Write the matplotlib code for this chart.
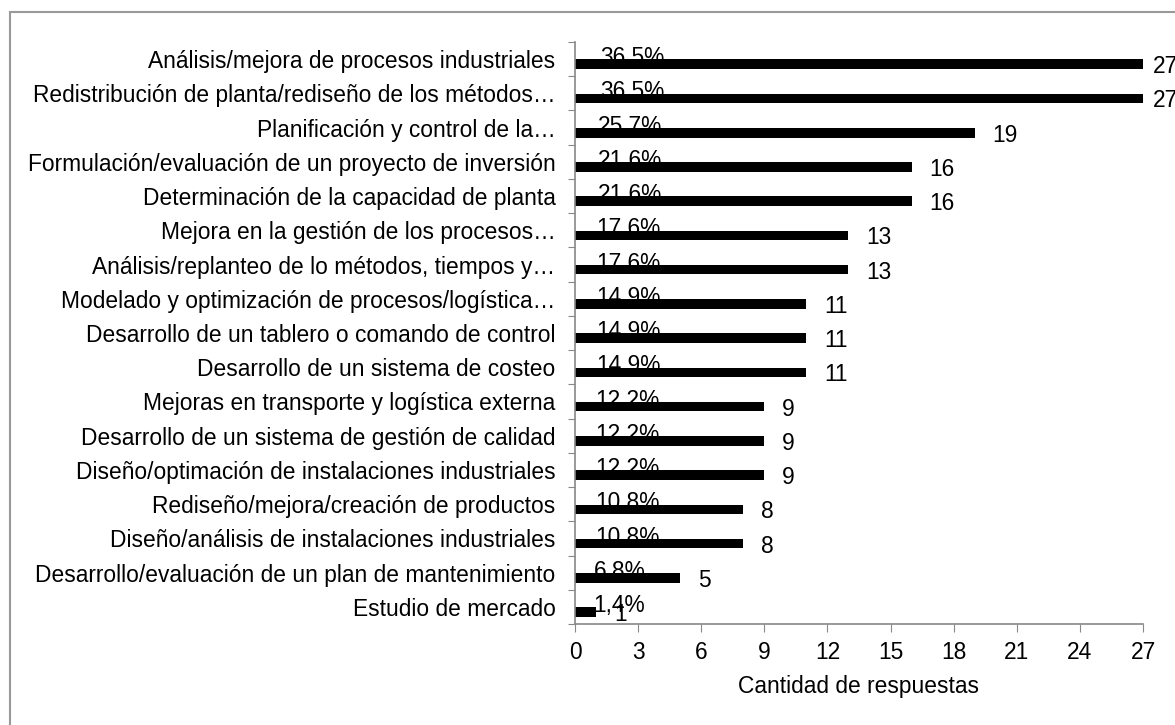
import numpy as np
import matplotlib.pyplot as plt
from matplotlib.patches import Rectangle

plt.rcParams['font.family'] = ['Liberation Sans', 'DejaVu Sans']

# Datos del gráfico
categorias = [
    'Análisis/mejora de procesos industriales',
    'Redistribución de planta/rediseño de los métodos…',
    'Planificación y control de la…',
    'Formulación/evaluación de un proyecto de inversión',
    'Determinación de la capacidad de planta',
    'Mejora en la gestión de los procesos…',
    'Análisis/replanteo de lo métodos, tiempos y…',
    'Modelado y optimización de procesos/logística…',
    'Desarrollo de un tablero o comando de control',
    'Desarrollo de un sistema de costeo',
    'Mejoras en transporte y logística externa',
    'Desarrollo de un sistema de gestión de calidad',
    'Diseño/optimación de instalaciones industriales',
    'Rediseño/mejora/creación de productos',
    'Diseño/análisis de instalaciones industriales',
    'Desarrollo/evaluación de un plan de mantenimiento',
    'Estudio de mercado',
]
respuestas = [27, 27, 19, 16, 16, 13, 13, 11, 11, 11, 9, 9, 9, 8, 8, 5, 1]
porcentajes = [36.5, 36.5, 25.7, 21.6, 21.6, 17.6, 17.6, 14.9, 14.9, 14.9,
               12.2, 12.2, 12.2, 10.8, 10.8, 6.8, 1.4]
ticks_x = [0, 3, 6, 9, 12, 15, 18, 21, 24, 27]

fig = plt.figure(figsize=(11.75, 7.25), dpi=100)
ax = fig.add_axes([575 / 1175, 101 / 725, 568 / 1175, 582 / 725])

# Marco exterior gris
fig.patches.append(Rectangle((10 / 1175, -0.1), 2.0, 1.1 - 12 / 725,
                             transform=fig.transFigure, fill=False,
                             edgecolor='#999999', linewidth=1.5))

y = np.arange(len(categorias))
desplazamiento = 0.15  # las barras quedan un poco por debajo del centro
ax.barh(y + desplazamiento, respuestas, height=0.28, color='black')

tam = 16.4
for i, (n, p) in enumerate(zip(respuestas, porcentajes)):
    # cantidad a la derecha de la barra
    sep = 0.85 if n < max(respuestas) else 0.45
    ax.text(n + sep, i + desplazamiento, str(n), fontsize=tam,
            va='center_baseline', ha='left', color='black', clip_on=False)
    # porcentaje encima del inicio de la barra
    etiqueta = f'{p:.1f}%'.replace('.', ',')
    ax.text(0.85 + p / 100, i + desplazamiento, etiqueta, fontsize=tam,
            va='baseline', ha='left', color='black', clip_on=False)

ax.set_xlim(0, 27)
ax.set_ylim(len(categorias) - 0.5, -0.5)
ax.set_xticks(ticks_x)
ax.set_xticklabels([str(t) for t in ticks_x], fontsize=tam)
ax.set_xlabel('Cantidad de respuestas', fontsize=tam, labelpad=8)

# ticks del eje y en los bordes de cada categoría, etiquetas en el centro
ax.set_yticks(np.arange(len(categorias) + 1) - 0.5)
ax.set_yticklabels([])
ax.set_yticks(y, minor=True)
ax.set_yticklabels(categorias, minor=True, fontsize=tam)
ax.tick_params(axis='y', which='minor', length=0, pad=14)
ax.tick_params(axis='y', which='major', length=5, color='#888888')
ax.tick_params(axis='x', length=6, color='#888888', pad=6)

for lado in ['top', 'right']:
    ax.spines[lado].set_visible(False)
for lado in ['left', 'bottom']:
    ax.spines[lado].set_color('#888888')
    ax.spines[lado].set_linewidth(1.2)

plt.savefig('out.png', dpi=100)
